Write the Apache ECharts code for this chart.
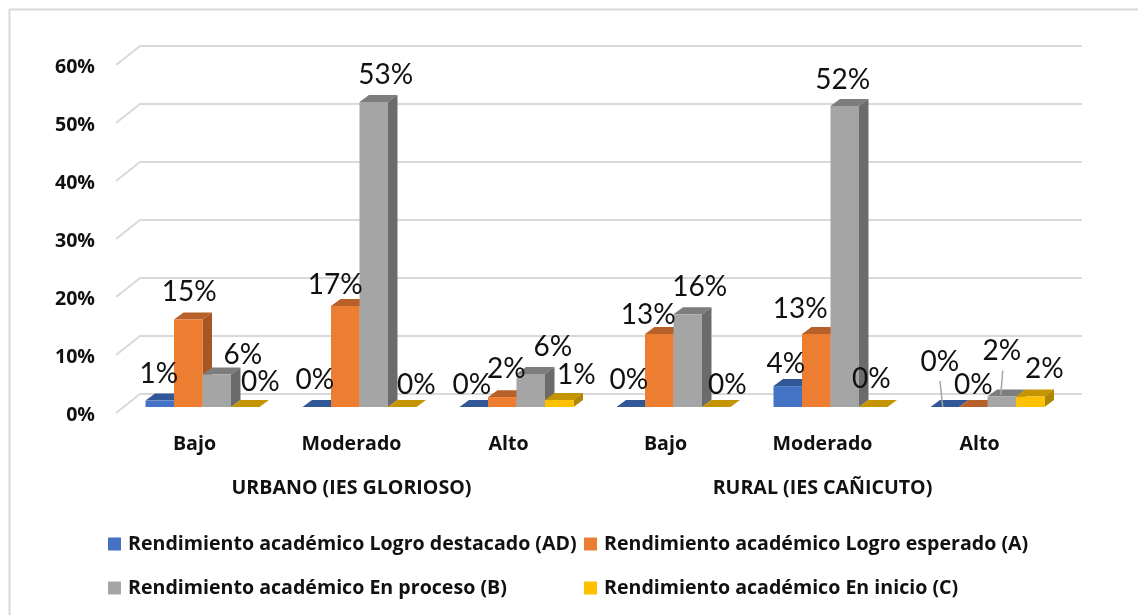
<!DOCTYPE html>
<html lang="en">
<head>
    <meta charset="UTF-8">
    <title>Rendimiento académico</title>
    <script src="https://cdn.jsdelivr.net/npm/echarts@6/dist/echarts.min.js"></script>
    <style>html, body { margin: 0; background: #fff; }</style>
</head>
<body>
    <div id="main" style="width: 1138px; height: 615px;"></div>

    <script type="text/javascript">
        const levels = ['Bajo', 'Moderado', 'Alto', 'Bajo ', 'Moderado ', 'Alto '];
        const zones = ['URBANO (IES GLORIOSO)', 'RURAL (IES CAÑICUTO)'];
        const yTicks = [0, 10, 20, 30, 40, 50, 60];

        const logroDestacado = [1.1, 0, 0, 0, 3.6, 0];
        const logroEsperado = [15.1, 17.4, 1.7, 12.6, 12.6, 0];
        const enProceso = [5.6, 52.6, 5.7, 16, 51.9, 1.8];
        const enInicio = [0, 0, 1.2, 0, 0, 1.8];

        const seriesNames = [
            'Rendimiento académico Logro destacado (AD)',
            'Rendimiento académico Logro esperado (A)',
            'Rendimiento académico En proceso (B)',
            'Rendimiento académico En inicio (C)'
        ];
        const seriesValues = [logroDestacado, logroEsperado, enProceso, enInicio];
        const colors = ['#4472C4', '#ED7D31', '#A5A5A5', '#FFC000'];
        const topColors = ['#325796', '#B8602A', '#7D7D7D', '#C49500'];
        const sideColors = ['#2C4C84', '#A85722', '#6B6B6B', '#B08600'];

        // hand placed labels in the original: shift from the top of each bar, [series][category]
        const labelShift = [
            [[-1, -27], [-2, -27], [-2, -22], [-2, -27], [-2, -22], [-5, -45]],
            [[1, -27], [-10, -21], [4, -28], [-11, -19], [-16, -25], [0, -22]],
            [[26, -20], [12, -27], [22, -27], [12, -27], [-2, -26], [0, -46]],
            [[15, -25], [14, -22], [17, -25], [11, -22], [-2, -28], [14, -28]]
        ];
        // leader lines of the two moved labels in the last group
        const leaderLines = [
            {series: 0, category: 5, from: [-4.75, -26], to: [-2, 0]},
            {series: 2, category: 5, from: [1, -26], to: [-1, -1.6]}
        ];

        // projection of the flat axes into the fake 3D box
        const wallDepth = [24, -19];
        const barFront = [8, -6];
        const barBack = [17.5, -13];
        const groupShare = 0.726;

        function barGeometry(api, category, value, s) {
            const band = api.size([1, 0])[0];
            const w = band * groupShare / 4;
            const base = api.coord([category, 0]);
            const top = api.coord([category, value]);
            const x = base[0] + barFront[0] + (s - 2) * w;
            return {
                x: x, w: w,
                y0: base[1] + barFront[1],
                y1: top[1] + barFront[1],
                dx: barBack[0] - barFront[0],
                dy: barBack[1] - barFront[1]
            };
        }

        function renderBar(s) {
            return function (params, api) {
                const g = barGeometry(api, api.value(0), api.value(1), s);
                const front = [[g.x, g.y1], [g.x + g.w, g.y1], [g.x + g.w, g.y0], [g.x, g.y0]];
                const top = [[g.x, g.y1], [g.x + g.dx, g.y1 + g.dy], [g.x + g.w + g.dx, g.y1 + g.dy], [g.x + g.w, g.y1]];
                const side = [[g.x + g.w, g.y1], [g.x + g.w + g.dx, g.y1 + g.dy], [g.x + g.w + g.dx, g.y0 + g.dy], [g.x + g.w, g.y0]];
                return {
                    type: 'group',
                    children: [
                        {type: 'polygon', shape: {points: top}, style: {fill: topColors[s]}},
                        {type: 'polygon', shape: {points: side}, style: {fill: sideColors[s]}},
                        {type: 'polygon', shape: {points: front}, style: {fill: colors[s]}}
                    ]
                };
            };
        }

        function renderGrid(params, api) {
            const box = params.coordSys;
            const y = api.coord([0, api.value(1)])[1];
            return {
                type: 'polyline',
                shape: {points: [
                    [box.x, y],
                    [box.x + wallDepth[0], y + wallDepth[1]],
                    [box.x + box.width + wallDepth[0], y + wallDepth[1]]
                ]},
                style: {fill: null, stroke: '#D9D9D9', lineWidth: 2}
            };
        }

        function renderLabel(params, api) {
            const category = api.value(0);
            const value = api.value(1);
            const s = api.value(2);
            const g = barGeometry(api, category, value, s);
            const cx = g.x + g.w / 2;
            const shift = labelShift[s][category];
            const children = [{
                type: 'text',
                style: {
                    text: Math.round(value) + '%',
                    x: cx + shift[0],
                    y: g.y1 + shift[1],
                    align: 'center',
                    verticalAlign: 'middle',
                    font: '28px Lato',
                    fill: '#111'
                }
            }];
            leaderLines.forEach(line => {
                if (line.series === s && line.category === category) {
                    children.unshift({
                        type: 'line',
                        shape: {
                            x1: cx + line.from[0], y1: g.y1 + line.from[1],
                            x2: cx + line.to[0], y2: g.y1 + line.to[1]
                        },
                        style: {stroke: '#A6A6A6', lineWidth: 1.5}
                    });
                }
            });
            return {type: 'group', children: children};
        }

        const labelData = [];
        seriesValues.forEach((values, s) => {
            values.forEach((v, i) => labelData.push([i, v, s]));
        });

        const series = [{
            type: 'custom',
            silent: true,
            z: 1,
            renderItem: renderGrid,
            encode: {x: 0, y: 1},
            data: yTicks.map(t => [0, t])
        }];
        seriesValues.forEach((values, s) => {
            series.push({
                name: seriesNames[s],
                type: 'custom',
                z: 2,
                itemStyle: {color: colors[s]},
                renderItem: renderBar(s),
                encode: {x: 0, y: 1},
                data: values.map((v, i) => [i, v])
            });
        });
        series.push({
            type: 'custom',
            silent: true,
            z: 3,
            renderItem: renderLabel,
            encode: {x: 0, y: 1},
            data: labelData
        });

        const legendSpots = [[108, 534], [584, 534], [108, 578], [584, 578]];
        const legendText = {fontFamily: 'Open Sans', fontWeight: 'bold', fontSize: 19.6, color: '#111', padding: [0, 0, 0, 2]};
        const axisText = {fontFamily: 'Open Sans', fontWeight: 'bold', fontSize: 19.6, color: '#111'};

        const options = {
            animation: false,
            // the source picture only shows the top and left edge of the frame
            graphic: [{
                type: 'polyline',
                silent: true,
                z: -1,
                shape: {points: [[9.5, 615], [9.5, 9.5], [1138, 9.5]]},
                style: {fill: null, stroke: '#D9D9D9', lineWidth: 2}
            }],
            legend: seriesNames.map((name, i) => ({
                data: [name],
                left: legendSpots[i][0],
                top: legendSpots[i][1],
                padding: 0,
                icon: 'rect',
                itemWidth: 13,
                itemHeight: 13,
                selectedMode: false,
                textStyle: legendText
            })),
            grid: {left: 116, width: 942, top: 65, height: 348},
            xAxis: [{
                type: 'category',
                data: levels,
                axisLine: {show: false},
                axisTick: {show: false},
                axisLabel: Object.assign({margin: 21, formatter: v => v.trim()}, axisText)
            }, {
                type: 'category',
                position: 'bottom',
                offset: 44,
                data: zones,
                axisLine: {show: false},
                axisTick: {show: false},
                axisLabel: Object.assign({margin: 21}, axisText)
            }],
            yAxis: {
                type: 'value',
                min: 0,
                max: 60,
                interval: 10,
                splitLine: {show: false},
                axisLine: {show: false},
                axisTick: {show: false},
                axisLabel: Object.assign({margin: 21, formatter: '{value}%', verticalAlign: 'top', lineHeight: 4}, axisText)
            },
            series: series
        };

        let myChart = echarts.init(document.getElementById('main'));
        myChart.setOption(options);
    </script>
</body>
</html>
